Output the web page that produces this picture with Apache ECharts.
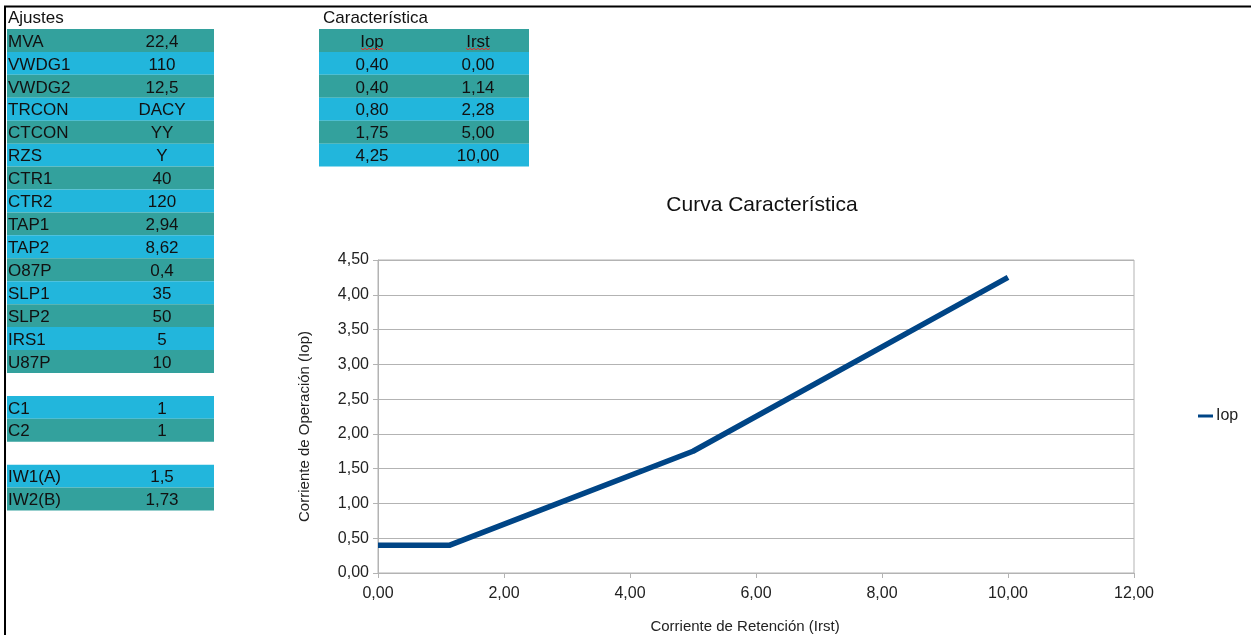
<!DOCTYPE html>
<html>
<head>
<meta charset="utf-8">
<script src="https://cdn.jsdelivr.net/npm/echarts@6/dist/echarts.min.js"></script>
<style>
html,body{margin:0;padding:0;background:#fff;}
#c{width:1251px;height:635px;}
</style>
</head>
<body>
<div id="c"></div>
<script>
// ---- data ----
var ajustesLabels = ['MVA','VWDG1','VWDG2','TRCON','CTCON','RZS','CTR1','CTR2','TAP1','TAP2','O87P','SLP1','SLP2','IRS1','U87P'];
var ajustesValues = ['22,4','110','12,5','DACY','YY','Y','40','120','2,94','8,62','0,4','35','50','5','10'];
var cLabels = ['C1','C2'];
var cValues = ['1','1'];
var iwLabels = ['IW1(A)','IW2(B)'];
var iwValues = ['1,5','1,73'];
var iop = [0.40, 0.40, 0.80, 1.75, 4.25];
var irst = [0.00, 1.14, 2.28, 5.00, 10.00];
var xTicks = [0, 2, 4, 6, 8, 10, 12];
var yTicks = [0, 0.5, 1, 1.5, 2, 2.5, 3, 3.5, 4, 4.5];

// ---- layout/style ----
var TEAL = '#33a19d', CYAN = '#22b6dc', TXT = '#111';
var FONT = '"Liberation Sans", Arial, sans-serif';
var ROW_H = 22.93, ROW0 = 29;
function fmt(v){ return v.toFixed(2).replace('.', ','); }

var g = [];
// outer frame
g.push({type:'line', shape:{x1:4, y1:6.5, x2:1251, y2:6.5}, style:{stroke:'#000', lineWidth:2}});
g.push({type:'line', shape:{x1:5, y1:6, x2:5, y2:635}, style:{stroke:'#000', lineWidth:2}});

function txt(x, y, s, align){
  g.push({type:'text', x:x, y:y, style:{text:s, fill:TXT, font:'17px ' + FONT, align:align||'left', verticalAlign:'middle'}});
}
function rowRect(x, w, r, color){
  g.push({type:'rect', shape:{x:x, y:ROW0 + r*ROW_H, width:w, height:ROW_H}, style:{fill:color}});
}
function group(labels, values, startRow, firstTeal){
  for (var i = 0; i < labels.length; i++){
    var r = startRow + i;
    var col = ((i % 2 === 0) === firstTeal) ? TEAL : CYAN;
    rowRect(7, 207, r, col);
    txt(8, ROW0 + r*ROW_H + ROW_H/2 + 1.5, labels[i], 'left');
    txt(162, ROW0 + r*ROW_H + ROW_H/2 + 1.5, values[i], 'center');
  }
}
txt(8, 18, 'Ajustes');
group(ajustesLabels, ajustesValues, 0, true);
group(cLabels, cValues, 16, false);
group(iwLabels, iwValues, 19, false);

// Característica table
txt(323, 18, 'Característica');
rowRect(319, 210, 0, TEAL);
txt(372, ROW0 + ROW_H/2 + 1.5, 'Iop', 'center');
txt(478, ROW0 + ROW_H/2 + 1.5, 'Irst', 'center');
// spell-check wavy underlines
function wavy(x1, x2, y){
  var pts = [], up = true;
  for (var x = x1; x <= x2; x += 2){ pts.push([x, up ? y : y + 2]); up = !up; }
  g.push({type:'polyline', shape:{points:pts}, style:{stroke:'#e03030', lineWidth:1, fill:null}});
}
wavy(361, 383, 48);
wavy(466, 490, 48);
for (var i = 0; i < iop.length; i++){
  var r = i + 1;
  rowRect(319, 210, r, (i % 2 === 0) ? CYAN : TEAL);
  txt(372, ROW0 + r*ROW_H + ROW_H/2 + 1.5, fmt(iop[i]), 'center');
  txt(478, ROW0 + r*ROW_H + ROW_H/2 + 1.5, fmt(irst[i]), 'center');
}

var lineData = irst.map(function(x, i){ return [x, iop[i]]; });

var chart = echarts.init(document.getElementById('c'), null, {renderer:'canvas'});
chart.setOption({
  animation: false,
  backgroundColor: '#fff',
  textStyle: {fontFamily: FONT},
  title: {
    text: 'Curva Característica',
    left: 757, top: 190, textAlign: 'center',
    textStyle: {fontSize: 21, fontWeight: 'normal', color: '#111', fontFamily: FONT}
  },
  legend: {
    data: ['Iop'],
    left: 1193, top: 403,
    icon: 'rect', itemWidth: 15, itemHeight: 3, itemGap: 2,
    textStyle: {fontSize: 16, color: '#222', fontFamily: FONT, padding: [0,0,0,-2]}
  },
  grid: {
    left: 378, right: 117, top: 260, bottom: 61,
    show: true, borderColor: '#b3b3b3', borderWidth: 1, backgroundColor: 'transparent',
    containLabel: false
  },
  xAxis: {
    type: 'value', min: xTicks[0], max: xTicks[xTicks.length-1], interval: xTicks[1]-xTicks[0],
    name: 'Corriente de Retención (Irst)', nameLocation: 'middle', nameGap: 46,
    nameTextStyle: {fontSize: 15, color: '#222', fontFamily: FONT, padding: [0, 22, 0, 0]},
    axisLine: {show: true, lineStyle: {color: '#b3b3b3'}},
    axisTick: {show: true, length: 5, lineStyle: {color: '#b3b3b3'}},
    splitLine: {show: false},
    axisLabel: {fontSize: 16, color: '#222', margin: 13, formatter: fmt, fontFamily: FONT}
  },
  yAxis: {
    type: 'value', min: yTicks[0], max: yTicks[yTicks.length-1], interval: yTicks[1]-yTicks[0],
    name: 'Corriente de Operación (Iop)', nameLocation: 'middle', nameGap: 66, nameRotate: 90,
    nameTextStyle: {fontSize: 15, color: '#222', fontFamily: FONT, padding: [0, 20, 0, 0]},
    axisLine: {show: true, lineStyle: {color: '#b3b3b3'}},
    axisTick: {show: true, length: 5, lineStyle: {color: '#b3b3b3'}},
    splitLine: {show: true, lineStyle: {color: '#b3b3b3', width: 1}},
    axisLabel: {fontSize: 16, color: '#222', margin: 9, formatter: fmt, fontFamily: FONT}
  },
  series: [{
    name: 'Iop', type: 'line', data: lineData,
    showSymbol: false, symbol: 'none',
    lineStyle: {color: '#004586', width: 5.5, join: 'round'},
    itemStyle: {color: '#004586'}
  }],
  graphic: g
});
</script>
</body>
</html>
